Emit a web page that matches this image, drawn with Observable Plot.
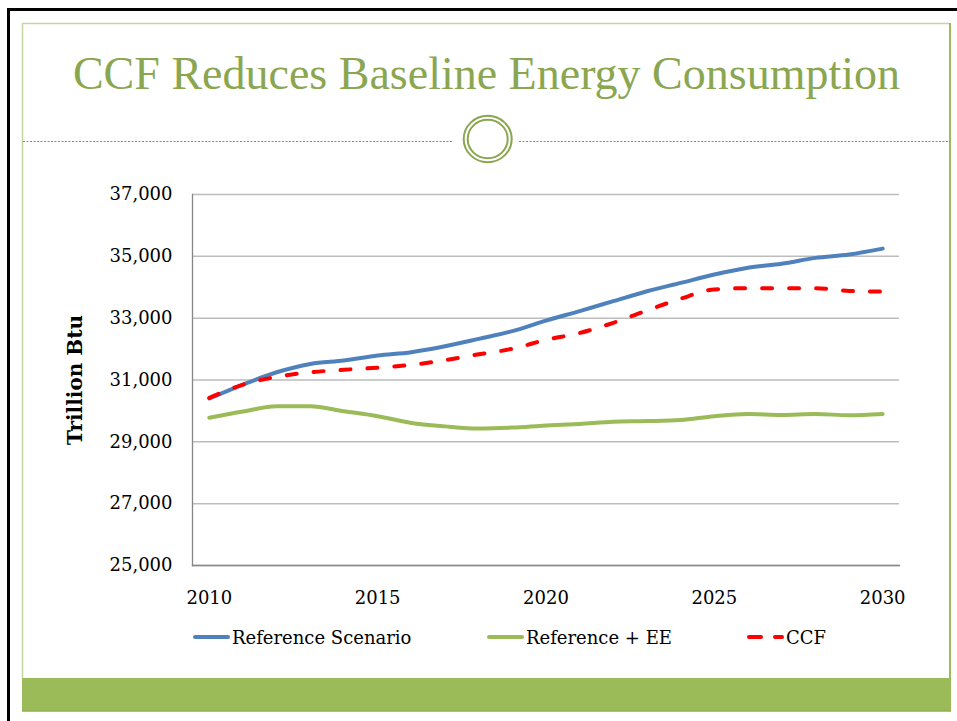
<!DOCTYPE html>
<html>
<head>
<meta charset="utf-8">
<script src="https://cdn.jsdelivr.net/npm/d3@7"></script>
<script src="https://cdn.jsdelivr.net/npm/@observablehq/plot@0.6"></script>
<style>
html, body { margin: 0; padding: 0; background: #fff; }
#slide { position: relative; width: 957px; height: 721px; overflow: hidden; background: #fff; font-family: "DejaVu Serif", serif; }
#decor { position: absolute; left: 0; top: 0; }
#title { position: absolute; left: 23px; top: 44px; width: 927px; text-align: center; font-family: "Liberation Serif", serif; font-size: 46px; line-height: 60px; color: #8AA650; white-space: nowrap; }
#chart { position: absolute; left: 0; top: 170px; }
#legend { position: absolute; left: 0; top: 624px; width: 957px; height: 26px; font-family: "DejaVu Serif", serif; font-size: 18px; color: #000; }
.item { position: absolute; top: 0; height: 26px; display: flex; align-items: center; white-space: nowrap; }
.item svg { display: block; margin-right: 2px; }
</style>
</head>
<body>
<div id="slide">
  <svg id="decor" width="957" height="721">
    <rect x="7" y="8" width="950" height="3" fill="#000"/>
    <rect x="7" y="8" width="3" height="713" fill="#000"/>
    <line x1="22" y1="23.5" x2="950" y2="23.5" stroke="#C3D69B" stroke-width="1.5"/>
    <line x1="22.5" y1="23" x2="22.5" y2="678" stroke="#C3D69B" stroke-width="1.5"/>
    <line x1="950" y1="23" x2="950" y2="711" stroke="#9BBB59" stroke-width="2"/>
    <rect x="22" y="678" width="929" height="33" fill="#9BBB59"/>
    <line x1="22" y1="711" x2="951" y2="711" stroke="#8FAE52" stroke-width="1.5"/>
    <line x1="23" y1="141.5" x2="453" y2="141.5" stroke="#7E9A45" stroke-width="1.2" stroke-dasharray="2,1.5"/>
    <line x1="519" y1="141.5" x2="950" y2="141.5" stroke="#7E9A45" stroke-width="1.2" stroke-dasharray="2,1.5"/>
    <ellipse cx="487.7" cy="139" rx="24" ry="23.2" fill="#fff" stroke="#8AA650" stroke-width="2"/>
    <ellipse cx="487.7" cy="139" rx="20" ry="19.3" fill="none" stroke="#8AA650" stroke-width="2"/>
  </svg>
  <div id="title">CCF Reduces Baseline Energy Consumption</div>
  <div id="chart"></div>
  <div id="legend">
    <div class="item" style="left:193px">
      <svg width="37" height="8"><line x1="2" y1="4" x2="35" y2="4" stroke="#4F81BD" stroke-width="4" stroke-linecap="round"/></svg>
      <span>Reference Scenario</span>
    </div>
    <div class="item" style="left:487px">
      <svg width="37" height="8"><line x1="2" y1="4" x2="35" y2="4" stroke="#9BBB59" stroke-width="4" stroke-linecap="round"/></svg>
      <span>Reference + EE</span>
    </div>
    <div class="item" style="left:747px">
      <svg width="37" height="8"><line x1="2" y1="4" x2="14" y2="4" stroke="#FF0000" stroke-width="4" stroke-linecap="round"/><line x1="28" y1="4" x2="35" y2="4" stroke="#FF0000" stroke-width="4" stroke-linecap="round"/></svg>
      <span>CCF</span>
    </div>
  </div>
</div>
<script>
const years = [2010, 2011, 2012, 2013, 2014, 2015, 2016, 2017, 2018, 2019, 2020,
               2021, 2022, 2023, 2024, 2025, 2026, 2027, 2028, 2029, 2030];
const referenceScenario = [30400, 30850, 31250, 31520, 31630, 31790, 31900, 32090, 32330, 32580, 32920,
                           33230, 33550, 33870, 34140, 34410, 34630, 34760, 34950, 35060, 35250];
const referenceEE = [29780, 29980, 30150, 30150, 29990, 29830, 29610, 29500, 29430, 29460, 29530,
                     29580, 29650, 29670, 29710, 29830, 29900, 29870, 29900, 29860, 29900];
const ccf = [30420, 30850, 31100, 31250, 31330, 31400, 31490, 31640, 31830, 32010, 32300,
             32520, 32850, 33250, 33630, 33930, 33970, 33970, 33970, 33880, 33860];
const seriesNames = ["Reference Scenario", "Reference + EE", "CCF"];
const seriesColors = ["#4F81BD", "#9BBB59", "#FF0000"];
const yTicks = [25000, 27000, 29000, 31000, 33000, 35000, 37000];
const xTicks = [2010, 2015, 2020, 2025, 2030];
const yTitle = "Trillion Btu";

const rows = [];
[referenceScenario, referenceEE, ccf].forEach((vals, i) => {
  vals.forEach((v, j) => rows.push({year: years[j], value: v, series: seriesNames[i]}));
});

const chart = Plot.plot({
  width: 957,
  height: 450,
  marginLeft: 192,
  marginRight: 58,
  marginTop: 24,
  marginBottom: 55,
  style: {fontFamily: "DejaVu Serif, serif", fontSize: "18px", color: "#000", background: "transparent", overflow: "visible"},
  x: {domain: [2009.5, 2030.5]},
  y: {domain: [25000, 37000]},
  color: {domain: seriesNames, range: seriesColors},
  marks: [
    Plot.gridY(yTicks, {stroke: "#BDBDBD", strokeOpacity: 1, strokeWidth: 1.5}),
    Plot.frame({anchor: "left", stroke: "#878787", strokeWidth: 1.3}),
    Plot.frame({anchor: "bottom", stroke: "#878787", strokeWidth: 1.3}),
    Plot.axisY({ticks: yTicks, tickSize: 0, tickPadding: 20, tickFormat: d3.format(","), fontSize: 18, fill: "#000", label: null}),
    Plot.axisX({ticks: xTicks, tickSize: 0, tickPadding: 26, tickFormat: d => String(d), fontSize: 18, fill: "#000", label: null}),
    Plot.text([yTitle], {frameAnchor: "left", textAnchor: "middle", dx: -117, rotate: -90, fontWeight: "bold", fontSize: 20, fill: "#000"}),
    Plot.line(rows.filter(d => d.series !== "CCF"), {x: "year", y: "value", stroke: "series", z: "series", strokeWidth: 4, curve: "monotone-x"}),
    Plot.line(rows.filter(d => d.series === "CCF"), {x: "year", y: "value", stroke: "series", strokeWidth: 4, strokeDasharray: "10,17", strokeLinecap: "round", curve: "monotone-x"})
  ]
});
document.getElementById("chart").appendChild(chart);
</script>
</body>
</html>
